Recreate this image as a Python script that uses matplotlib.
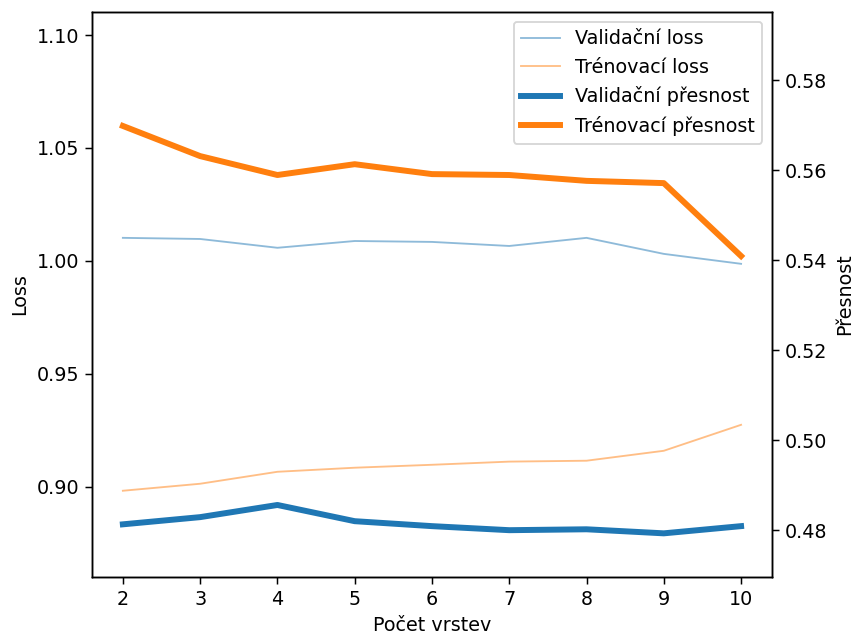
import matplotlib
matplotlib.use('Agg')
from matplotlib import pyplot as plt

vrstvy = [2, 3, 4, 5, 6, 7, 8, 9, 10]
val_loss = [1.0102, 1.0097, 1.0058, 1.0088, 1.0084, 1.0066, 1.0102, 1.0031, 0.9987]
tren_loss = [0.8982, 0.9013, 0.9066, 0.9084, 0.9097, 0.9111, 0.9115, 0.9159, 0.9274]
val_acc = [0.4813, 0.4829, 0.4856, 0.4820, 0.4809, 0.4800, 0.4802, 0.4793, 0.4809]
tren_acc = [0.5698, 0.5631, 0.5589, 0.5613, 0.5591, 0.5589, 0.5576, 0.5571, 0.5409]

plt.rcParams['font.size'] = 10.3

fig = plt.figure(figsize=(857 / 134, 634 / 134), dpi=134)
ax = fig.add_axes([0.1073, 0.0899, 0.7935, 0.8911])
ax2 = ax.twinx()

l1, = ax.plot(vrstvy, val_loss, color='tab:blue', alpha=0.5, lw=1, label='Validační loss')
l2, = ax.plot(vrstvy, tren_loss, color='tab:orange', alpha=0.5, lw=1, label='Trénovací loss')
l3, = ax2.plot(vrstvy, val_acc, color='tab:blue', lw=3.2, label='Validační přesnost')
l4, = ax2.plot(vrstvy, tren_acc, color='tab:orange', lw=3.2, label='Trénovací přesnost')

ax.set_ylim(0.860, 1.1102)
ax2.set_ylim(0.4696, 0.5951)
ax.set_xlabel('Počet vrstev')
ax.set_ylabel('Loss')
ax2.set_ylabel('Přesnost')

# spolecna legenda pro obe osy
ax2.legend(handles=[l1, l2, l3, l4], loc='upper right')

fig.savefig('out.png', dpi=134)
